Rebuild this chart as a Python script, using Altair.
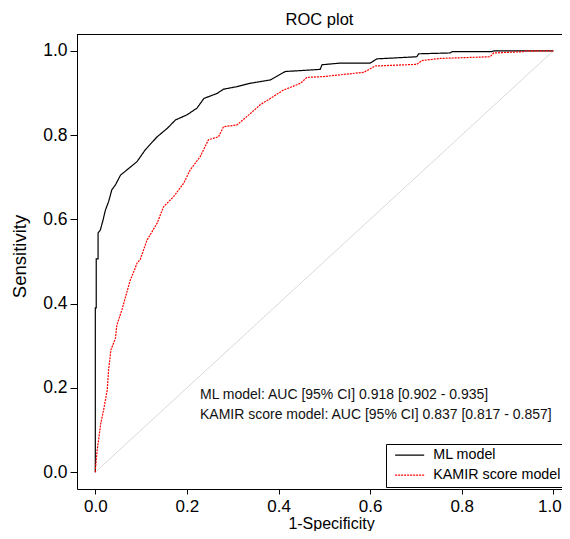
import altair as alt
import pandas as pd

# ---- data ----
models = ["ML model", "KAMIR score model"]

ml_fpr = [0.0, 0.0, 0.002, 0.002, 0.006, 0.006, 0.011, 0.017, 0.022, 0.029, 0.036, 0.044,
          0.055, 0.073, 0.091, 0.109, 0.135, 0.157, 0.175, 0.200, 0.222, 0.237, 0.266,
          0.280, 0.309, 0.338, 0.382, 0.415, 0.491, 0.495, 0.535, 0.600, 0.615, 0.702,
          0.706, 0.775, 0.779, 0.865, 0.870, 1.0]
ml_tpr = [0.0, 0.390, 0.390, 0.506, 0.506, 0.568, 0.575, 0.599, 0.622, 0.642, 0.670, 0.682,
          0.705, 0.721, 0.737, 0.765, 0.796, 0.816, 0.836, 0.848, 0.864, 0.887, 0.899,
          0.909, 0.915, 0.923, 0.931, 0.951, 0.956, 0.967, 0.971, 0.971, 0.981, 0.986,
          0.993, 0.995, 0.998, 0.998, 1.0, 1.0]

kamir_fpr = [0.0, 0.0, 0.004, 0.007, 0.012, 0.018, 0.026, 0.029, 0.034, 0.044, 0.047, 0.058,
             0.066, 0.076, 0.084, 0.091, 0.098, 0.113, 0.135, 0.149, 0.171, 0.193, 0.207,
             0.229, 0.247, 0.269, 0.280, 0.309, 0.331, 0.360, 0.382, 0.411, 0.448, 0.462,
             0.498, 0.586, 0.611, 0.702, 0.713, 0.753, 0.862, 0.870, 0.935, 0.939, 1.0]
kamir_tpr = [0.0, 0.005, 0.052, 0.076, 0.116, 0.147, 0.195, 0.242, 0.290, 0.318, 0.349, 0.385,
             0.416, 0.455, 0.476, 0.496, 0.505, 0.551, 0.591, 0.630, 0.654, 0.686, 0.717,
             0.749, 0.789, 0.796, 0.820, 0.824, 0.844, 0.872, 0.887, 0.907, 0.923, 0.937,
             0.939, 0.949, 0.964, 0.968, 0.977, 0.982, 0.986, 0.995, 0.998, 1.0, 1.0]

diag = [0.0, 1.0]
tick_values = [0.0, 0.2, 0.4, 0.6, 0.8, 1.0]
annotations = ["ML model: AUC [95% CI] 0.918 [0.902 - 0.935]",
               "KAMIR score model: AUC [95% CI] 0.837 [0.817 - 0.857]"]

# ---- tables ----
rows = []
for name, fx, ty in [(models[0], ml_fpr, ml_tpr), (models[1], kamir_fpr, kamir_tpr)]:
    for i, (a, b) in enumerate(zip(fx, ty)):
        rows.append({"model": name, "fpr": a, "tpr": b, "idx": i})
curves = pd.DataFrame(rows)
diag_df = pd.DataFrame({"fpr": diag, "tpr": diag})

FONT = "Liberation Sans"
W, H = 485, 455

xs = alt.Scale(domain=[-0.04, 1.019], nice=False, zero=False)
ys = alt.Scale(domain=[-0.04, 1.04], nice=False, zero=False)

x_axis = alt.Axis(values=tick_values, format=".1f", title="1-Specificity",
                  tickSize=5, labelPadding=4, labelFontSize=17,
                  labelOffset={"condition": {"test": "datum.value === 1", "value": -4}, "value": 0},
                  titleX=254, titleY=39,
                  titleBaseline="alphabetic", titleAlign="center", titleFontSize=16)
y_axis = alt.Axis(values=tick_values, format=".1f", title="Sensitivity",
                  tickSize=7, labelPadding=3, titlePadding=13, titleY=222,
                  labelFontSize=17.5, titleFontSize=18.5)

diag_layer = alt.Chart(diag_df).mark_line(color="#d9d9d9", strokeWidth=1).encode(
    x=alt.X("fpr:Q", scale=xs, axis=x_axis),
    y=alt.Y("tpr:Q", scale=ys, axis=y_axis),
)

leg = alt.Legend(
    title=None, orient="none", legendX=309, legendY=410,
    symbolType="M-0.4,0H5.4", symbolSize=100, symbolStrokeWidth=1.2,
    labelFont=FONT, labelFontSize=14.3, labelColor="black", labelOffset=29,
    padding=4, rowPadding=5, strokeColor="black", fillColor="white",
)

curve_layer = alt.Chart(curves).mark_line(strokeWidth=1.2).encode(
    x=alt.X("fpr:Q", scale=xs),
    y=alt.Y("tpr:Q", scale=ys),
    color=alt.Color("model:N", scale=alt.Scale(domain=models, range=["#000000", "#ff0000"]), legend=leg),
    strokeDash=alt.StrokeDash("model:N", scale=alt.Scale(domain=models, range=[[1, 0], [2, 1]]), legend=leg),
    detail="model:N",
    order=alt.Order("idx:Q"),
)

# top border of the plot box (no right border is visible in the reference)
top_border = alt.Chart(pd.DataFrame({"k": [0]})).mark_rule(color="black", strokeWidth=1).encode(
    x=alt.value(0), x2=alt.value(W), y=alt.value(0.5)
)

text_layers = []
for k, line in enumerate(annotations):
    text_layers.append(
        alt.Chart(pd.DataFrame({"t": [line]})).mark_text(
            align="left", baseline="alphabetic", fontSize=14, font=FONT, color="#111111"
        ).encode(x=alt.value(123), y=alt.value(365 + 20 * k), text="t:N")
    )

chart = alt.layer(diag_layer, curve_layer, top_border, *text_layers).properties(
    width=W, height=H,
    autosize=alt.AutoSizeParams(type="none"),
    padding={"left": 69, "top": 26, "right": 0, "bottom": 42},
    title=alt.TitleParams("ROC plot", fontSize=16.5, fontWeight="normal", font=FONT,
                          color="black", anchor="middle", offset=6),
).configure_view(
    stroke="transparent"
).configure_axis(
    grid=False, domain=True, domainColor="black", domainWidth=1,
    tickColor="black", ticks=True,
    labelFont=FONT, labelColor="black",
    titleFont=FONT, titleFontWeight="normal", titleColor="black",
)

chart.save("out.html", embed_options={"renderer": "svg", "actions": False})
